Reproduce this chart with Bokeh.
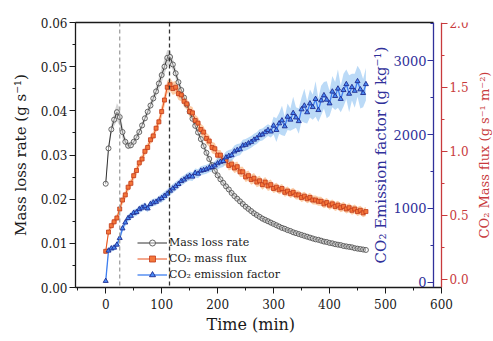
import math
import numpy as np
from bokeh.plotting import figure
from bokeh.models import (Range1d, LinearAxis, SingleIntervalTicker, NumeralTickFormatter,
                          Span, Legend, LegendItem, ColumnDataSource, FixedTicker, Title)
from bokeh.embed import file_html
from bokeh.resources import INLINE

# ---------------- data ----------------
time_min = [0, 5, 10, 15, 20, 25, 30, 35, 40, 45, 50, 55, 60, 65, 70, 75, 80, 85, 90, 95,
            100, 105, 110, 115, 120, 125, 130, 135, 140, 145, 150, 155, 160, 165, 170, 175,
            180, 185, 190, 195, 200, 205, 210, 215, 220, 225, 230, 235, 240, 245, 250, 255,
            260, 265, 270, 275, 280, 285, 290, 295, 300, 305, 310, 315, 320, 325, 330, 335,
            340, 345, 350, 355, 360, 365, 370, 375, 380, 385, 390, 395, 400, 405, 410, 415,
            420, 425, 430, 435, 440, 445, 450, 455, 460, 465]

mass_loss_rate = [0.0235, 0.0315, 0.0358, 0.0380, 0.0397, 0.0386, 0.0352, 0.0330, 0.0321, 0.0322,
                  0.0330, 0.0340, 0.0352, 0.0367, 0.0383, 0.0398, 0.0412, 0.0428, 0.0444, 0.0462,
                  0.0481, 0.0500, 0.0520, 0.0522, 0.0505, 0.0485, 0.0465, 0.0447, 0.0430, 0.0414,
                  0.0398, 0.0382, 0.0366, 0.0351, 0.0336, 0.0320, 0.0305, 0.0291, 0.0277, 0.0264,
                  0.0254, 0.0245, 0.0237, 0.0229, 0.0222, 0.0214, 0.0207, 0.0201, 0.0195, 0.0189,
                  0.0183, 0.0178, 0.0173, 0.0168, 0.0164, 0.0160, 0.0156, 0.0153, 0.0150, 0.0147,
                  0.0144, 0.0141, 0.0138, 0.0135, 0.0133, 0.0130, 0.0128, 0.0125, 0.0123, 0.0121,
                  0.0119, 0.0117, 0.0115, 0.0113, 0.0111, 0.0109, 0.0108, 0.0106, 0.0104, 0.0103,
                  0.0101, 0.0100, 0.0098, 0.0097, 0.0096, 0.0094, 0.0093, 0.0092, 0.0091, 0.0089,
                  0.0088, 0.0087, 0.0086, 0.0085]
mass_loss_err = [0.0010, 0.0010, 0.0012, 0.0015, 0.0020, 0.0020, 0.0015, 0.0010, 0.0008,
                 0.0008, 0.0008, 0.0008, 0.0008, 0.0008, 0.0008, 0.0008, 0.0009, 0.0010, 0.0012,
                 0.0014, 0.0016, 0.0018, 0.0018, 0.0016, 0.0014, 0.0012, 0.0010, 0.0009,
                 0.0008, 0.0008, 0.0008, 0.0008, 0.0008, 0.0008, 0.0008, 0.0008, 0.0008, 0.0008,
                 0.0008, 0.0008,
                 0.0007, 0.0007, 0.0007, 0.0007, 0.0007, 0.0007, 0.0007, 0.0007, 0.0007, 0.0007,
                 0.0007, 0.0007, 0.0007, 0.0007, 0.0007, 0.0007, 0.0007, 0.0007, 0.0007, 0.0007,
                 0.0006, 0.0006, 0.0006, 0.0006, 0.0006, 0.0006, 0.0006, 0.0006, 0.0006, 0.0006,
                 0.0006, 0.0006, 0.0006, 0.0006, 0.0006, 0.0006, 0.0006, 0.0006, 0.0006, 0.0006,
                 0.0006, 0.0006, 0.0006, 0.0006, 0.0006, 0.0006, 0.0006, 0.0006, 0.0006, 0.0006,
                 0.0006, 0.0006, 0.0006, 0.0006]

co2_mass_flux = [0.22, 0.37, 0.42, 0.45, 0.48, 0.55, 0.62, 0.66, 0.72, 0.75,
                 0.81, 0.85, 0.91, 0.94, 1.00, 1.03, 1.09, 1.12, 1.18, 1.23,
                 1.31, 1.40, 1.50, 1.52, 1.49, 1.50, 1.45, 1.44, 1.39, 1.37,
                 1.31, 1.30, 1.24, 1.22, 1.17, 1.15, 1.10, 1.08, 1.03, 1.02,
                 0.97, 0.97, 0.93, 0.93, 0.89, 0.90, 0.87, 0.88, 0.84, 0.84,
                 0.80, 0.81, 0.78, 0.79, 0.76, 0.77, 0.74, 0.76, 0.73, 0.74,
                 0.71, 0.72, 0.70, 0.71, 0.68, 0.69, 0.67, 0.68, 0.66, 0.66,
                 0.64, 0.65, 0.63, 0.64, 0.62, 0.62, 0.61, 0.61, 0.59, 0.60,
                 0.58, 0.59, 0.57, 0.58, 0.56, 0.57, 0.55, 0.56, 0.54, 0.55,
                 0.53, 0.54, 0.52, 0.53]
co2_flux_err = [0.03, 0.03, 0.03, 0.03, 0.03,
                0.035, 0.035, 0.035, 0.035, 0.035, 0.035, 0.035, 0.035, 0.035, 0.035,
                0.035, 0.035, 0.035, 0.035, 0.035,
                0.05, 0.05, 0.05, 0.05, 0.05, 0.05, 0.05, 0.05,
                0.045, 0.045, 0.045, 0.045, 0.045, 0.045, 0.045, 0.045, 0.045, 0.045, 0.045, 0.045,
                0.04, 0.04, 0.04, 0.04, 0.04, 0.04, 0.04, 0.04, 0.04, 0.04,
                0.04, 0.04, 0.04, 0.04, 0.04, 0.04, 0.04, 0.04, 0.04, 0.04,
                0.035, 0.035, 0.035, 0.035, 0.035, 0.035, 0.035, 0.035, 0.035, 0.035,
                0.035, 0.035, 0.035, 0.035, 0.035, 0.035, 0.035, 0.035, 0.035, 0.035,
                0.035, 0.035, 0.035, 0.035, 0.035, 0.035, 0.035, 0.035, 0.035, 0.035,
                0.035, 0.035, 0.035, 0.035]

co2_emission_factor = [20, 430, 460, 470, 510, 600, 730, 810, 870, 900,
                       940, 950, 990, 1010, 1030, 1000, 1060, 1080, 1090, 1120,
                       1140, 1170, 1200, 1240, 1270, 1300, 1330, 1370, 1390, 1420,
                       1440, 1430, 1480, 1470, 1510, 1520, 1530, 1550, 1560, 1580,
                       1610, 1630, 1640, 1690, 1710, 1720, 1770, 1790, 1800, 1850,
                       1860, 1880, 1900, 1930, 1950, 1990, 2000, 2030, 2060, 2040,
                       2120, 2060, 2150, 2190, 2110, 2240, 2200, 2290, 2230, 2180,
                       2340, 2390, 2300, 2420, 2370, 2480, 2330, 2460, 2530, 2470,
                       2420, 2580, 2520, 2620, 2480, 2600, 2680, 2550, 2640, 2590,
                       2720, 2610, 2560, 2680]
co2_ef_err = [40, 40, 40, 40, 40,
              50, 50, 50, 50, 50, 50, 50, 50, 50, 50, 50, 50, 50, 50, 50,
              60, 60, 60, 60, 60, 60, 60, 60, 60, 60, 60, 60, 60, 60, 60, 60, 60, 60, 60, 60,
              80, 80, 80, 80, 80, 80, 80, 80, 80, 80, 80, 80, 80, 80, 80, 80, 80, 80, 80, 80,
              120, 160, 140, 200, 130, 180, 150, 220, 140, 170,
              160, 230, 150, 190, 170, 240, 160, 200, 180, 250,
              170, 210, 190, 260, 180, 220, 200, 250, 180, 230,
              210, 260, 190, 220]

event_times = [25, 114]
legend_labels = ["Mass loss rate", "CO\u2082 mass flux", "CO\u2082 emission factor"]

for arr in (mass_loss_rate, mass_loss_err, co2_mass_flux, co2_flux_err,
            co2_emission_factor, co2_ef_err):
    assert len(arr) == len(time_min), len(arr)

# ---------------- styling ----------------
SERIF = "DejaVu Serif"
BLUE_AX = "#30309a"
RED_AX = "#c83a3c"
BLACK = "#1a1a1a"

t = np.array(time_min)
mlr = np.array(mass_loss_rate)
mlr_e = np.array(mass_loss_err)
flux = np.array(co2_mass_flux)
flux_e = np.array(co2_flux_err)
ef = np.array(co2_emission_factor)
ef_e = np.array(co2_ef_err)

src = ColumnDataSource(dict(
    t=t, mlr=mlr, mlr_lo=mlr - mlr_e, mlr_hi=mlr + mlr_e,
    flux=flux, flux_lo=flux - flux_e, flux_hi=flux + flux_e,
    ef=ef, ef_lo=ef - ef_e, ef_hi=ef + ef_e,
))

# layout constants (minutes on the x scale)
X_START, X_AXIS_END, X_END = -54, 600, 693
BLUE_AXIS_X = 586     # inner (blue) axis
RED_AXIS_X = 600      # red axis at the end of the time axis
RED_TITLE_X = 689     # anchor of the red axis title

p = figure(width=493, height=341, output_backend="svg", toolbar_location=None,
           x_range=Range1d(X_START, X_END), y_range=Range1d(0, 0.06),
           min_border_left=75, min_border_right=0, min_border_top=22, min_border_bottom=54)
p.extra_y_ranges = {"flux": Range1d(-0.0625, 2.005), "ef": Range1d(-68, 3514)}
p.grid.visible = False
p.outline_line_color = None
p.background_fill_color = "white"
p.border_fill_color = "white"

# bands
p.varea(x="t", y1="mlr_lo", y2="mlr_hi", source=src, fill_color="#bdbdbd", fill_alpha=0.6)
p.varea(x="t", y1="flux_lo", y2="flux_hi", source=src, fill_color="#f9a35c", fill_alpha=0.55,
        y_range_name="flux")
p.varea(x="t", y1="ef_lo", y2="ef_hi", source=src, fill_color="#8ec2f2", fill_alpha=0.6,
        y_range_name="ef")

# event lines
span_colors = ["#a0a0a0", "#333333"]
for loc, col in zip(event_times, span_colors):
    p.add_layout(Span(location=loc, dimension="height", line_color=col,
                      line_dash="4 3", line_width=1.3))

# series
l1 = p.line("t", "mlr", source=src, line_color="#333333", line_width=1)
s1 = p.scatter("t", "mlr", source=src, marker="circle", size=5, line_color="#555555",
               line_width=0.9, fill_color="white", fill_alpha=0.4)
l2 = p.line("t", "flux", source=src, line_color="#e8501c", line_width=1, y_range_name="flux")
s2 = p.scatter("t", "flux", source=src, marker="square", size=4, line_color="#c03a1a",
               line_width=0.8, fill_color="#f4763a", y_range_name="flux")
l3 = p.line("t", "ef", source=src, line_color="#3f7ff0", line_width=1.3, y_range_name="ef")
s3 = p.scatter("t", "ef", source=src, marker="triangle", size=5, line_color="#1f2b8f",
               line_width=0.9, fill_color="#4a8af5", y_range_name="ef")

# axes ------------------------------------------------------------
def style_axis(ax, color, label_size="12px"):
    ax.axis_line_color = color
    ax.axis_line_width = 1.3
    ax.major_tick_line_color = color
    ax.minor_tick_line_color = color
    ax.major_label_text_color = color
    ax.axis_label_text_color = color
    ax.major_label_text_font = SERIF
    ax.major_label_text_font_size = label_size
    ax.axis_label_text_font = SERIF
    ax.axis_label_text_font_style = "normal"
    ax.major_tick_in = 0
    ax.major_tick_out = 6
    ax.minor_tick_in = 0
    ax.minor_tick_out = 3

xa = p.xaxis[0]
xa.ticker = SingleIntervalTicker(interval=100, num_minor_ticks=2)
xa.bounds = (X_START, X_AXIS_END)
style_axis(xa, BLACK)
xa.major_label_standoff = 5

# x title, centred under the time axis (not under the whole frame)
x_title = Title(text="Time (min)", align="left", offset=131, standoff=2,
                text_font=SERIF, text_font_size="16px", text_font_style="normal",
                text_color=BLACK)
p.add_layout(x_title, "below")

ya = p.yaxis[0]
ya.ticker = SingleIntervalTicker(interval=0.01, num_minor_ticks=2)
ya.formatter = NumeralTickFormatter(format="0.00")
style_axis(ya, BLACK)
ya.axis_label = "Mass loss rate (g s\u207b\u00b9)"
ya.axis_label_text_font_size = "15px"
ya.major_label_standoff = 2
ya.axis_label_standoff = 8

red_axis = LinearAxis(y_range_name="flux", fixed_location=RED_AXIS_X,
                      ticker=SingleIntervalTicker(interval=0.5, num_minor_ticks=2),
                      formatter=NumeralTickFormatter(format="0.0"))
style_axis(red_axis, RED_AX)
red_axis.major_label_standoff = 2
p.add_layout(red_axis, "right")

# red axis title: a tick-less axis so that the title reads upward like the others
red_title = LinearAxis(y_range_name="flux", fixed_location=RED_TITLE_X,
                       ticker=FixedTicker(ticks=[]),
                       axis_label="CO\u2082 Mass flux (g s\u207b\u00b9 m\u207b\u00b2)")
red_title.axis_line_color = None
red_title.major_label_text_font_size = "0px"
red_title.axis_label_text_font = SERIF
red_title.axis_label_text_font_style = "normal"
red_title.axis_label_text_font_size = "13px"
red_title.axis_label_text_color = RED_AX
red_title.axis_label_standoff = 0
p.add_layout(red_title, "left")

blue_axis = LinearAxis(y_range_name="ef", fixed_location=BLUE_AXIS_X,
                       ticker=SingleIntervalTicker(interval=1000, num_minor_ticks=2),
                       formatter=NumeralTickFormatter(format="0"),
                       axis_label="CO\u2082 Emission factor (g kg\u207b\u00b9)")
style_axis(blue_axis, BLUE_AX, "13px")
blue_axis.axis_label_text_font_size = "15px"
blue_axis.major_label_standoff = 1
blue_axis.axis_label_standoff = 0
p.add_layout(blue_axis, "left")

top_axis = LinearAxis(ticker=FixedTicker(ticks=[]), bounds=(X_START, BLUE_AXIS_X))
top_axis.axis_line_color = BLACK
top_axis.axis_line_width = 1.3
top_axis.major_label_text_font_size = "0px"
p.add_layout(top_axis, "above")

# legend
legend = Legend(items=[LegendItem(label=legend_labels[0], renderers=[l1, s1]),
                       LegendItem(label=legend_labels[1], renderers=[l2, s2]),
                       LegendItem(label=legend_labels[2], renderers=[l3, s3])],
                location=(60, 3), orientation="vertical")
legend.background_fill_alpha = 0
legend.border_line_alpha = 0
legend.margin = 0
legend.padding = 2
legend.spacing = 1
legend.glyph_width = 30
legend.glyph_height = 15
legend.label_height = 15
legend.label_standoff = 2
legend.label_text_font = SERIF
legend.label_text_font_size = "11px"
legend.label_text_color = BLACK
p.add_layout(legend, "center")

open("out.html", "w").write(file_html(p, INLINE))
